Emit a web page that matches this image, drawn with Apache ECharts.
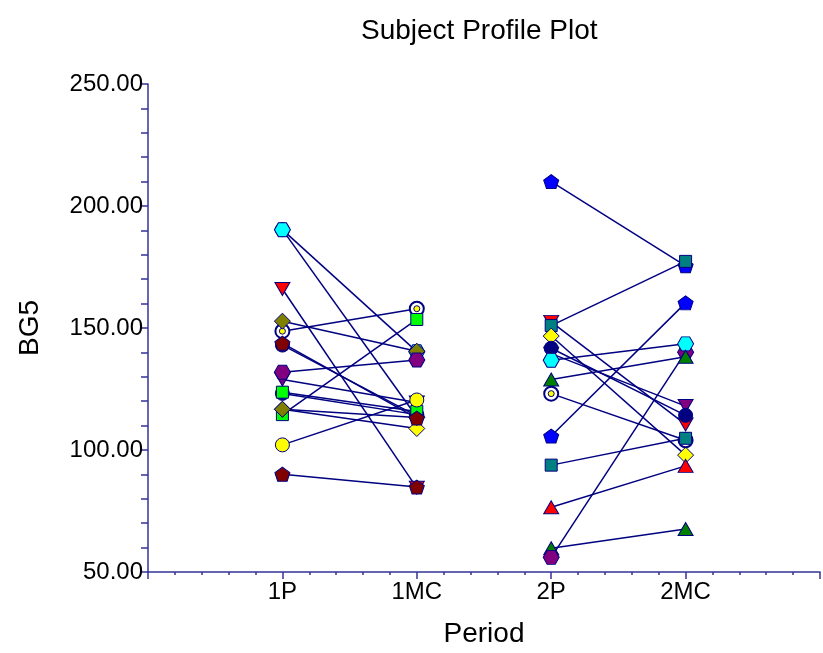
<!DOCTYPE html>
<html>
<head>
<meta charset="utf-8">
<script src="https://cdn.jsdelivr.net/npm/echarts@6/dist/echarts.min.js"></script>
<style>
  html, body { margin: 0; padding: 0; background: #fff; }
  #chart { width: 823px; height: 653px; }
</style>
</head>
<body>
<div id="chart"></div>
<script>
const periods = ['1P', '1MC', '2P', '2MC'];
const yTicks = [50, 100, 150, 200, 250];

// sequence 1: 1P -> 1MC (drawing order = overlap order)
const seq1First = [190.3, 190.3, 166.0, 148.7, 114.5, 152.8, 128.9, 131.9, 143.0, 123.2, 116.7, 116.7, 123.7, 102.1, 143.8, 90.1];
const seq1Second = [113.5, 140.3, 84.5, 157.9, 153.5, 140.5, 119.5, 136.9, 114.0, 114.5, 108.8, 113.3, 115.8, 120.5, 113.1, 84.8];
const seq1Marker = ['navyCircle', 'cyanHex', 'redTriDown', 'target', 'greenSquare', 'oliveDiamond', 'purpleTriDown', 'purpleHex',
  'navyCircle', 'navyCircle', 'yellowDiamond', 'oliveDiamond', 'greenSquare', 'yellowCircle', 'maroonPent', 'maroonPent'];

// sequence 2: 2P -> 2MC
const seq2First = [210.0, 152.5, 151.0, 146.7, 139.5, 141.7, 123.1, 105.7, 93.8, 76.5, 59.7, 56.0, 136.8, 128.9];
const seq2Second = [175.5, 110.5, 177.3, 97.9, 118.0, 114.2, 104.0, 160.3, 104.8, 93.5, 67.6, 140.1, 143.5, 138.2];
const seq2Marker = ['bluePent', 'redTriDown', 'tealSquare', 'yellowDiamond', 'purpleTriDown', 'navyCircle', 'target', 'bluePent',
  'tealSquare', 'redTri', 'greenTri', 'purpleHex', 'cyanHex', 'greenTri'];

const NAVY = '#000080';
const AXIS = '#333399';
const FONT = '"Liberation Sans", Arial, sans-serif';

const HEX = 'path://M0,6.5L3.75,0L11.25,0L15,6.5L11.25,13L3.75,13Z';
const PENT = 'path://M7.5,0L15,5.5L12.2,14L2.8,14L0,5.5Z';
const TRI_UP = 'path://M7,0L14,12L0,12Z';
const TRI_DOWN = 'path://M0,0L14,0L7,12Z';

const markers = {
  navyCircle: { symbol: 'circle', size: 14, color: NAVY },
  cyanHex: { symbol: HEX, size: [16, 14], color: '#00FFFF' },
  purpleHex: { symbol: HEX, size: [16, 14], color: '#800080' },
  redTriDown: { symbol: TRI_DOWN, size: [15, 13], color: '#FF0000' },
  purpleTriDown: { symbol: TRI_DOWN, size: [15, 13], color: '#800080' },
  redTri: { symbol: TRI_UP, size: [15, 13], color: '#FF0000' },
  greenTri: { symbol: TRI_UP, size: [15, 13], color: '#008000' },
  target: { symbol: 'circle', size: 14, color: '#FFFFFF', border: 2 },
  greenSquare: { symbol: 'rect', size: 12, color: '#00FF00' },
  tealSquare: { symbol: 'rect', size: 12, color: '#008080' },
  oliveDiamond: { symbol: 'diamond', size: [16, 16], color: '#808000' },
  yellowDiamond: { symbol: 'diamond', size: [16, 16], color: '#FFFF00' },
  yellowCircle: { symbol: 'circle', size: 14, color: '#FFFF00' },
  maroonPent: { symbol: PENT, size: [15, 14], color: '#800000' },
  bluePent: { symbol: PENT, size: [15, 14], color: '#0000FF' }
};

const series = [];
function addSubjects(first, second, marker, xa, xb) {
  first.forEach((v, i) => {
    const m = markers[marker[i]];
    const pts = [[xa, v], [xb, second[i]]];
    series.push({
      type: 'line',
      data: pts,
      symbol: m.symbol,
      symbolSize: m.size,
      showAllSymbol: true,
      lineStyle: { color: NAVY, width: 1.5 },
      itemStyle: { color: m.color, borderColor: NAVY, borderWidth: m.border || 1 },
      silent: true,
      animation: false
    });
    if (marker[i] === 'target') {
      // yellow dot in the middle of the ring
      series.push({
        type: 'line',
        data: pts,
        symbol: 'circle',
        symbolSize: 6,
        showAllSymbol: true,
        lineStyle: { width: 0, opacity: 0 },
        itemStyle: { color: '#FFFF00', borderColor: NAVY, borderWidth: 1 },
        silent: true,
        animation: false
      });
    }
  });
}
addSubjects(seq1First, seq1Second, seq1Marker, 1, 2);
addSubjects(seq2First, seq2Second, seq2Marker, 3, 4);

const chart = echarts.init(document.getElementById('chart'));
chart.setOption({
  backgroundColor: '#fff',
  animation: false,
  title: {
    text: 'Subject Profile Plot',
    left: 356,
    top: 12,
    textStyle: { fontFamily: FONT, fontSize: 28, fontWeight: 'normal', color: '#000' }
  },
  grid: { left: 148, top: 84, width: 678, height: 489 },
  xAxis: {
    type: 'value',
    min: 0,
    max: 5,
    interval: 1,
    name: 'Period',
    nameLocation: 'middle',
    nameGap: 48,
    nameTextStyle: { fontFamily: FONT, fontSize: 28, color: '#000' },
    axisLine: { lineStyle: { color: AXIS, width: 1.5 } },
    axisTick: { length: 7, lineStyle: { color: AXIS, width: 1.5 } },
    minorTick: { show: true, splitNumber: 5, length: 3, lineStyle: { color: AXIS, width: 1.5 } },
    splitLine: { show: false },
    axisLabel: {
      margin: 8,
      fontFamily: FONT,
      fontSize: 24,
      color: '#000',
      formatter: v => periods[v - 1] || ''
    }
  },
  yAxis: {
    type: 'value',
    min: yTicks[0],
    max: yTicks[yTicks.length - 1],
    interval: 50,
    name: 'BG5',
    nameLocation: 'middle',
    nameGap: 104,
    nameTextStyle: { fontFamily: FONT, fontSize: 28, color: '#000' },
    axisLine: { lineStyle: { color: AXIS, width: 1.5 } },
    axisTick: { length: 7, lineStyle: { color: AXIS, width: 1.5 } },
    minorTick: { show: true, splitNumber: 5, length: 7, lineStyle: { color: AXIS, width: 1.5 } },
    splitLine: { show: false },
    axisLabel: {
      margin: 5,
      fontFamily: FONT,
      fontSize: 24,
      color: '#000',
      formatter: v => v.toFixed(2)
    }
  },
  series: series
});
</script>
</body>
</html>
